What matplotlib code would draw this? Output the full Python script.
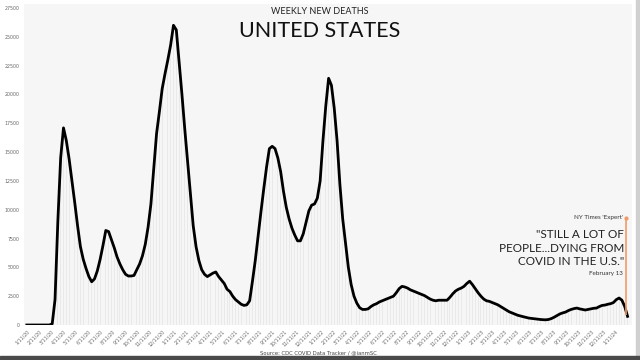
import pandas as pd
import matplotlib
matplotlib.use("Agg")
import matplotlib.pyplot as plt
from matplotlib.patches import Rectangle


# =====================================================
# DATA (weekly new deaths)
# =====================================================

first_week = "2020-01-11"

deaths_2020 = [0, 0, 0, 0, 0, 0, 0, 0, 0, 100, 2200, 9000, 14500, 17100,
               16000, 14400, 12500, 10600, 8600, 6800, 5700, 4900, 4200,
               3750, 4000, 4700, 5700, 6900, 8200, 8100, 7400, 6700, 5900,
               5300, 4800, 4400, 4250, 4250, 4300, 4800, 5300, 6000, 7000,
               8500, 10500, 13500, 16600, 18500, 20500, 21800, 23000]
deaths_2021 = [24300, 26000, 25600, 22800, 20000, 17000, 14200, 11300, 8600,
               6800, 5600, 4800, 4400, 4200, 4350, 4500, 4600, 4200, 3900,
               3600, 3100, 2900, 2500, 2200, 2000, 1800, 1700, 1750, 2100,
               3800, 5600, 7700, 9800, 11800, 13700, 15300, 15500, 15300,
               14500, 13300, 11600, 10200, 9200, 8400, 7800, 7300, 7300,
               7900, 8900, 9900, 10400, 10500]
deaths_2022 = [11000, 12500, 16000, 19000, 21400, 20800, 18800, 16000, 12200,
               9200, 7100, 5000, 3500, 2500, 1900, 1500, 1350, 1350, 1400,
               1600, 1750, 1850, 2000, 2100, 2200, 2300, 2400, 2500, 2800,
               3150, 3350, 3300, 3200, 3050, 2950, 2850, 2750, 2650, 2550,
               2400, 2250, 2150, 2100, 2150, 2150, 2150, 2150, 2400, 2700,
               2950, 3100, 3200]
deaths_2023 = [3350, 3600, 3800, 3500, 3150, 2800, 2500, 2250, 2100, 2050,
               1950, 1850, 1750, 1600, 1450, 1300, 1150, 1050, 950, 850, 780,
               720, 660, 600, 570, 540, 510, 480, 460, 450, 480, 560, 680,
               820, 960, 1050, 1120, 1250, 1350, 1420, 1470, 1400, 1350,
               1300, 1350, 1400, 1450, 1470, 1600, 1700, 1730, 1800]
deaths_2024 = [1850, 1950, 2200, 2340, 2150, 1600, 750]

y_ticks = list(range(0, 27501, 2500))

note_date = "2024-02-06"
note_head = "NY Times 'Expert'"
note_quote = "\"STILL A LOT OF\nPEOPLE...DYING FROM\nCOVID IN THE U.S.\""
note_date_label = "February 13"


# =====================================================
# BUILD SERIES
# =====================================================

deaths = deaths_2020 + deaths_2021 + deaths_2022 + deaths_2023 + deaths_2024
weeks = pd.date_range(first_week, periods=len(deaths), freq="7D")

tick_dates = pd.date_range("2020-01-01", "2024-01-31", freq="MS") + pd.Timedelta(days=10)
tick_labels = [f"{d.month}/{d.day}/{d.year % 100}" for d in tick_dates]


def px(x, y):
    # pixel position -> figure fraction
    return x / 640, 1 - y / 360


# =====================================================
# PLOT
# =====================================================

fig = plt.figure(figsize=(6.4, 3.6), dpi=100)
fig.patch.set_facecolor("white")

ax = fig.add_axes([24 / 640, 1 - 325 / 360, 608 / 640, 321 / 360])
ax.set_facecolor("#f6f6f6")

ax.bar(weeks, deaths, width=2.2, color="#e9e9e9", linewidth=0)
ax.plot(weeks, deaths, color="black", lw=2.0, solid_joinstyle="round")

ax.set_xlim(pd.Timestamp("2020-01-04"), pd.Timestamp("2020-01-04") + pd.Timedelta(days=1509))
ax.set_ylim(0, 27500 + 4 / 11.56 * 1000)

ax.set_yticks(y_ticks)
ax.set_yticklabels([str(v) for v in y_ticks], fontsize=3.4, color="#666666")
ax.set_xticks(tick_dates)
ax.set_xticklabels(tick_labels, fontsize=3.4, color="#666666",
                   rotation=45, ha="right", rotation_mode="anchor")
ax.tick_params(length=0, pad=3)
for s in ax.spines.values():
    s.set_visible(False)

# annotation line
nd = pd.Timestamp(note_date)
ax.vlines(nd, 900, 9300, color="#f29a66", lw=1.2)
ax.plot([nd], [9300], "o", color="#f29a66", ms=2)

# =====================================================
# TEXT
# =====================================================

fig.text(*px(320, 11), "WEEKLY NEW DEATHS", ha="center", va="center",
         fontsize=6.5, family="Lato", color="#222222")
fig.text(*px(320, 31), "UNITED STATES", ha="center", va="center",
         fontsize=15.5, family="Lato", color="#111111")

fig.text(*px(623, 218), note_head, ha="right", va="center",
         fontsize=4.5, family="Lato", color="#333333")
fig.text(*px(624, 248), note_quote, ha="right", va="center",
         fontsize=8.5, family="Lato", color="#222222", linespacing=1.3)
fig.text(*px(623, 274), note_date_label, ha="right", va="center",
         fontsize=4.5, family="Lato", color="#333333")

fig.text(*px(318, 353), "Source: CDC COVID Data Tracker / @ianmSC", ha="center",
         va="center", fontsize=3.8, color="#444444")

# screenshot frame
fig.patches.append(Rectangle((0, 0), 1, 4 / 360, transform=fig.transFigure,
                             color="#4a4a4a", zorder=5))
fig.patches.append(Rectangle((636 / 640, 0), 4 / 640, 1, transform=fig.transFigure,
                             color="#d0d0d0", zorder=4))

fig.savefig("out.png", dpi=100)
plt.close(fig)
